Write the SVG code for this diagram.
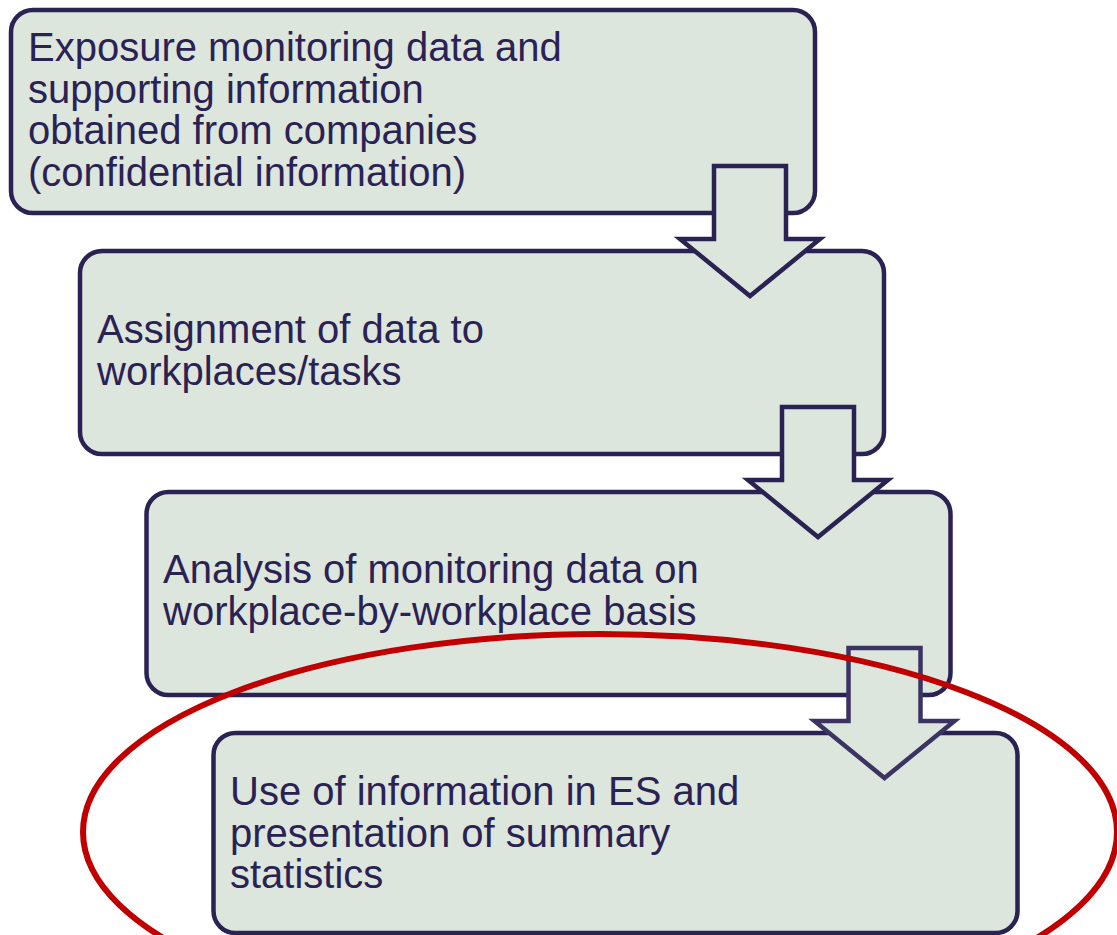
<svg xmlns="http://www.w3.org/2000/svg" width="1117" height="935" viewBox="0 0 1117 935">
  <style>
    .box { fill: #dde6dd; stroke: #2b2254; stroke-width: 4.5; }
    .lbl { font-family: "Liberation Sans", Arial, sans-serif; font-size: 40px; fill: #2b2254; }
    .arrow { fill: #dde6dd; stroke: #2b2254; stroke-width: 4.5; stroke-linejoin: miter; }
    .ring { fill: none; stroke: #c00000; stroke-width: 6; }
  </style>
  <defs>
    <path id="downArrow" d="M-36,0 H36 V73 H70 L0,130 L-70,73 H-36 Z"/>
  </defs>
  <rect width="1117" height="935" fill="#ffffff"/>

  <g id="node-1">
    <rect class="box" x="11" y="10" width="804" height="203" rx="22" ry="22"/>
    <text class="lbl" x="28" y="61">Exposure monitoring data and</text>
    <text class="lbl" x="28" y="102.5">supporting information</text>
    <text class="lbl" x="28" y="144">obtained from companies</text>
    <text class="lbl" x="28" y="185.5">(confidential information)</text>
  </g>
  <g id="node-2">
    <rect class="box" x="80" y="251" width="804" height="203" rx="22" ry="22"/>
    <text class="lbl" x="97" y="343">Assignment of data to</text>
    <text class="lbl" x="97" y="384.5">workplaces/tasks</text>
  </g>
  <g id="node-3">
    <rect class="box" x="146.5" y="492" width="804" height="203" rx="22" ry="22"/>
    <text class="lbl" x="163" y="583">Analysis of monitoring data on</text>
    <text class="lbl" x="163" y="624.5">workplace-by-workplace basis</text>
  </g>
  <g id="node-4">
    <rect class="box" x="213.5" y="733" width="804" height="200" rx="22" ry="22"/>
    <text class="lbl" x="230" y="805">Use of information in ES and</text>
    <text class="lbl" x="230" y="846.5">presentation of summary</text>
    <text class="lbl" x="230" y="888">statistics</text>
  </g>

  <g id="connectors">
    <use href="#downArrow" class="arrow" transform="translate(750,166)"/>
    <use href="#downArrow" class="arrow" transform="translate(818,407)"/>
    <use href="#downArrow" class="arrow" transform="translate(884.5,648)" style="stroke:#3b3463"/>
  </g>

  <ellipse class="ring" cx="600" cy="832" rx="517" ry="198"/>
</svg>
